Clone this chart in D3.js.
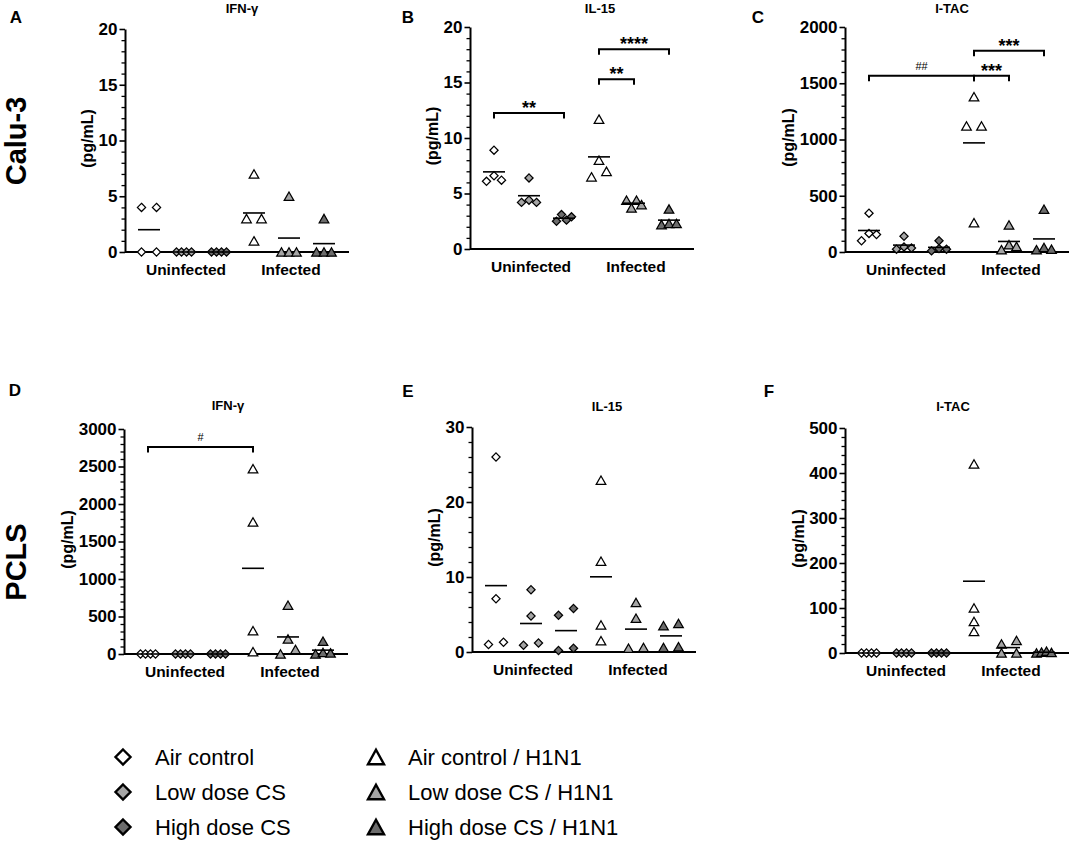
<!DOCTYPE html>
<html>
<head>
<meta charset="utf-8">
<script src="https://cdn.jsdelivr.net/npm/d3@7"></script>
<style>
  body { margin: 0; background: #fff; }
  text { font-family: Arial, "Liberation Sans", sans-serif; fill: #000; }
</style>
</head>
<body>
<svg id="chart"></svg>
<script>
/* Cytokine scatter panels (Calu-3 and PCLS), six groups each,
   points spread GraphPad-style, horizontal bar = group mean. */

const groups = [
  "Air control", "Low dose CS", "High dose CS",
  "Air control / H1N1", "Low dose CS / H1N1", "High dose CS / H1N1"
];
const groupFill = ["#ffffff", "#a5a5a5", "#6c6c6c", "#ffffff", "#a5a5a5", "#6c6c6c"];
const groupShape = ["diamond", "diamond", "diamond", "triangle", "triangle", "triangle"];
const infectionLabels = ["Uninfected", "Infected"];

// values per group (pg/mL)
const calu3IFNg = [[4, 4, 0, 0], [0, 0, 0, 0], [0, 0, 0, 0], [7, 3, 3, 1], [5, 0, 0, 0], [3, 0, 0, 0]];
const calu3IL15 = [
  [8.9, 6.1, 6.6, 6.2], [6.4, 4.2, 4.4, 4.2], [2.5, 3.1, 2.6, 2.9],
  [11.7, 8.0, 6.5, 7.0], [4.4, 3.7, 4.4, 4.0], [3.6, 2.2, 2.3, 2.3]
];
const calu3ITAC = [
  [345, 100, 165, 155], [140, 25, 45, 35], [10, 30, 25, 100],
  [1380, 1120, 1120, 260], [240, 20, 65, 50], [380, 20, 40, 25]
];
const pclsIFNg = [
  [0, 0, 0, 0], [0, 0, 0, 0], [0, 0, 0, 0],
  [2470, 1760, 310, 30], [650, 200, 0, 60], [170, 0, 20, 15]
];
const pclsIL15 = [
  [26, 7.1, 1.0, 1.3], [8.3, 4.8, 0.9, 1.2], [4.9, 5.8, 0.2, 0.5],
  [22.9, 12.1, 3.6, 1.5], [6.6, 4.5, 0.5, 0.6], [3.5, 3.8, 0.6, 0.7]
];
const pclsITAC = [
  [0, 0, 0, 0], [0, 0, 0, 0], [0, 0, 0, 0],
  [420, 100, 70, 48], [20, 28, 0, 0], [0, 2, 4, 1]
];

// y tick labels
const ticks20 = [0, 5, 10, 15, 20];
const ticks2000 = [0, 500, 1000, 1500, 2000];
const ticks3000 = [0, 500, 1000, 1500, 2000, 2500, 3000];
const ticks30 = [0, 10, 20, 30];
const ticks500 = [0, 100, 200, 300, 400, 500];

// significance brackets: group index from/to, height in data units
const calu3IL15Sig = [
  { from: 0, to: 2, y: 12.25, label: "**" },
  { from: 3, to: 4, y: 15.3, label: "**" },
  { from: 3, to: 5, y: 18.0, label: "****" }
];
const calu3ITACSig = [
  { from: 0, to: 3, y: 1566, label: "##" },
  { from: 3, to: 4, y: 1566, label: "***" },
  { from: 3, to: 5, y: 1790, label: "***" }
];
const pclsIFNgSig = [{ from: 0, to: 3, y: 2760, label: "#" }];

const W = 1074, H = 846;

const svg = d3.select("#chart").attr("width", W).attr("height", H);
svg.append("rect").attr("width", W).attr("height", H).attr("fill", "#fff");

const panels = [
  { letter: "A", title: "IFN-γ", data: calu3IFNg, ticks: ticks20, minor: 1, sig: [],
    x0: 125, top: 29, bottom: 252, titleX: 242, titleY: 13, letterX: 16, letterY: 23 },
  { letter: "B", title: "IL-15", data: calu3IL15, ticks: ticks20, minor: 1, sig: calu3IL15Sig,
    x0: 470, top: 27, bottom: 249, titleX: 600, titleY: 13, letterX: 408, letterY: 23 },
  { letter: "C", title: "I-TAC", data: calu3ITAC, ticks: ticks2000, minor: 100, sig: calu3ITACSig,
    x0: 845, top: 27, bottom: 252, titleX: 952, titleY: 13, letterX: 758, letterY: 23 },
  { letter: "D", title: "IFN-γ", data: pclsIFNg, ticks: ticks3000, minor: 100, sig: pclsIFNgSig,
    x0: 124, top: 429, bottom: 654, titleX: 228, titleY: 410, letterX: 15, letterY: 396 },
  { letter: "E", title: "IL-15", data: pclsIL15, ticks: ticks30, minor: 2, sig: [],
    x0: 472, top: 427, bottom: 652, titleX: 607, titleY: 411, letterX: 408, letterY: 397 },
  { letter: "F", title: "I-TAC", data: pclsITAC, ticks: ticks500, minor: 20, sig: [],
    x0: 845, top: 428, bottom: 653, titleX: 953, titleY: 411, letterX: 769, letterY: 397 }
];

function diamondPath(r) {
  return `M0,${-r}L${r},0L0,${r}L${-r},0Z`;
}
function trianglePath(w, h) {
  return `M0,${-h / 2}L${w / 2},${h / 2}L${-w / 2},${h / 2}Z`;
}

/* points closer than ~8px vertically share a row and get spread
   over a fixed 15px width, in the order they appear in the data */
function spreadOffsets(vals, y) {
  var idx = d3.range(vals.length).sort((a, b) => vals[a] - vals[b]);
  var offs = vals.map(() => 0);
  var i = 0;
  while (i < idx.length) {
    var j = i + 1;
    while (j < idx.length && Math.abs(y(vals[idx[j]]) - y(vals[idx[i]])) < 8.5) j++;
    var members = idx.slice(i, j).sort((a, b) => a - b);
    var n = members.length;
    members.forEach((m, k) => {
      offs[m] = n > 1 ? -7.5 + (k * 15) / (n - 1) : 0;
    });
    i = j;
  }
  return offs;
}

panels.forEach(function (p) {
  const g = svg.append("g");
  const max = d3.max(p.ticks);
  const y = d3.scaleLinear().domain([0, max]).range([p.bottom, p.top]);
  const x = d3.scalePoint().domain(d3.range(groups.length)).range([p.x0 + 24, p.x0 + 24 + 175]);
  const x1 = p.x0 + 224;

  // panel letter and title
  g.append("text").attr("x", p.letterX).attr("y", p.letterY)
    .attr("text-anchor", "middle").style("font-size", "17px").style("font-weight", "bold")
    .text(p.letter);
  g.append("text").attr("x", p.titleX).attr("y", p.titleY)
    .attr("text-anchor", "middle").style("font-size", "13px").style("font-weight", "bold")
    .text(p.title);

  // minor ticks
  const minors = d3.range(0, max + p.minor / 2, p.minor).filter((v) => p.ticks.indexOf(v) < 0);
  const minorAxis = g.append("g").attr("transform", `translate(${p.x0},0)`)
    .call(d3.axisLeft(y).tickValues(minors).tickSize(3.5).tickSizeOuter(0).tickFormat(""));
  minorAxis.select(".domain").remove();
  minorAxis.selectAll("line").attr("stroke", "#000").attr("stroke-width", 1.3);

  // major axis
  const yAxis = g.append("g").attr("transform", `translate(${p.x0},0)`)
    .call(d3.axisLeft(y).tickValues(p.ticks).tickFormat(d3.format("d"))
      .tickSize(5.5).tickSizeOuter(0).tickPadding(2));
  yAxis.select(".domain").attr("stroke", "#000").attr("stroke-width", 2);
  yAxis.selectAll(".tick line").attr("stroke", "#000").attr("stroke-width", 1.6);
  yAxis.selectAll(".tick text")
    .style("font-size", "17px").style("font-weight", "bold")
    .style("font-family", 'Arial, "Liberation Sans", sans-serif').attr("fill", "#000");

  var labelW = 0;
  yAxis.selectAll(".tick text").each(function () {
    labelW = Math.max(labelW, this.getComputedTextLength());
  });

  g.append("text")
    .attr("transform", `translate(${p.x0 - 7.5 - labelW - 11},${(p.top + p.bottom) / 2 - 2})rotate(-90)`)
    .attr("text-anchor", "middle").attr("dy", "0.35em")
    .style("font-size", "16px").style("font-weight", "bold")
    .text("(pg/mL)");

  // x baseline
  g.append("line").attr("x1", p.x0).attr("x2", x1)
    .attr("y1", y(0)).attr("y2", y(0))
    .attr("stroke", "#000").attr("stroke-width", 2);

  g.selectAll(".cat").data(infectionLabels).enter().append("text")
    .attr("x", (d, i) => x(i * 3 + 1) + 2)
    .attr("y", y(0) + 23)
    .attr("text-anchor", "middle").style("font-size", "15.5px").style("font-weight", "bold")
    .text((d) => d);

  // points
  p.data.forEach(function (vals, gi) {
    const offs = spreadOffsets(vals, y);
    const shape = groupShape[gi] === "diamond" ? diamondPath(4.1) : trianglePath(9.6, 8.4);
    g.append("g").selectAll("path").data(vals).enter().append("path")
      .attr("d", shape)
      .attr("transform", (d, i) => `translate(${x(gi) + offs[i]},${y(d)})`)
      .attr("fill", groupFill[gi]).attr("stroke", "#000").attr("stroke-width", 1.25);
  });

  // group means
  g.selectAll(".mean").data(p.data).enter().append("line")
    .attr("x1", (d, i) => x(i) - 11).attr("x2", (d, i) => x(i) + 11)
    .attr("y1", (d) => y(d3.mean(d))).attr("y2", (d) => y(d3.mean(d)))
    .attr("stroke", "#000").attr("stroke-width", 1.6);

  // significance brackets
  p.sig.forEach(function (s) {
    const xa = x(s.from), xb = x(s.to), yy = y(s.y);
    g.append("path")
      .attr("d", `M${xa},${yy + 5.5}V${yy}H${xb}V${yy + 5.5}`)
      .attr("fill", "none").attr("stroke", "#000").attr("stroke-width", 2);
    const isHash = s.label.indexOf("#") >= 0;
    g.append("text")
      .attr("x", (xa + xb) / 2)
      .attr("y", isHash ? yy - 6 : yy + 1)
      .attr("text-anchor", "middle")
      .style("font-size", isHash ? "11px" : "18px")
      .style("font-weight", isHash ? "normal" : "bold")
      .text(s.label);
  });
});

// row labels
svg.append("text").attr("transform", "translate(26,141)rotate(-90)")
  .attr("text-anchor", "middle").style("font-size", "29px").style("font-weight", "bold")
  .text("Calu-3");
svg.append("text").attr("transform", "translate(26,562)rotate(-90)")
  .attr("text-anchor", "middle").style("font-size", "29px").style("font-weight", "bold")
  .text("PCLS");

// legend
const legendRows = [757, 792, 827];
const legend = svg.append("g").selectAll("g").data(groups).enter().append("g")
  .attr("transform", (d, i) => `translate(${i < 3 ? 123 : 376},${legendRows[i % 3]})`);
legend.append("path")
  .attr("d", (d, i) => (groupShape[i] === "diamond" ? diamondPath(7.5) : trianglePath(16, 14.5)))
  .attr("fill", (d, i) => groupFill[i]).attr("stroke", "#000").attr("stroke-width", 2.4);
legend.append("text").attr("x", 32).attr("dy", "0.36em")
  .style("font-size", "22px")
  .text((d) => d);
</script>
</body>
</html>
